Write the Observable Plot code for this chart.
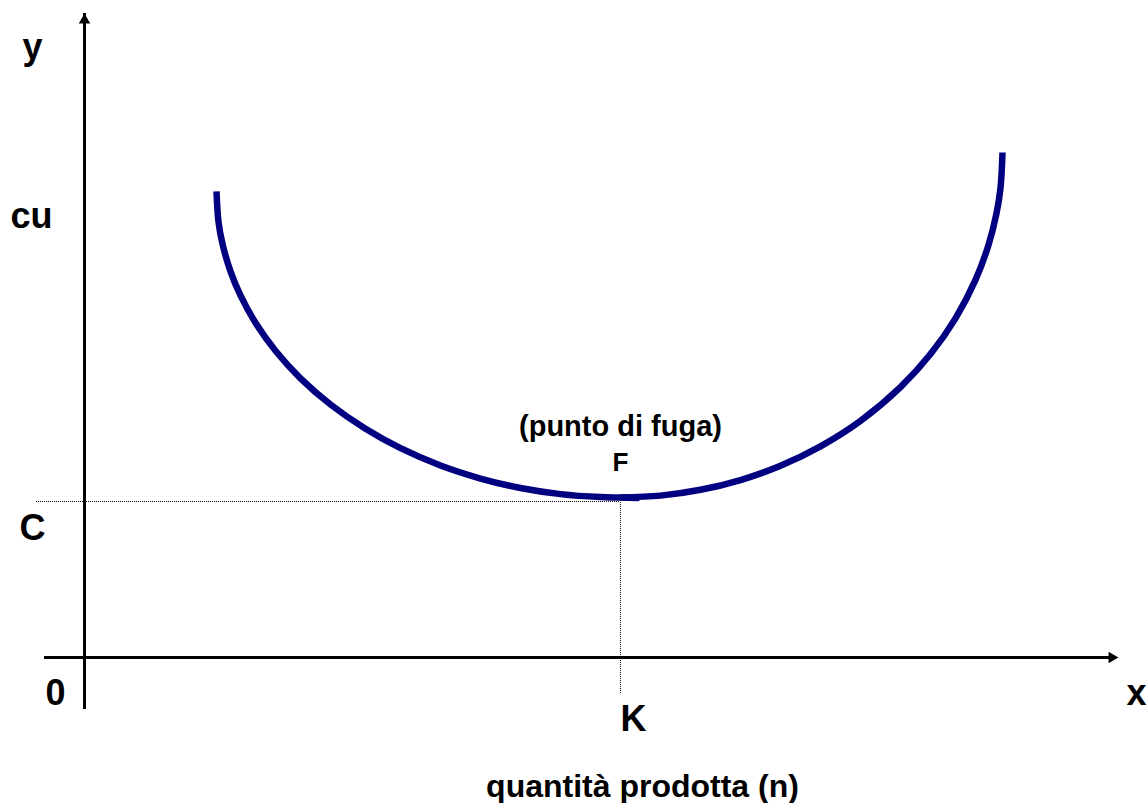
<!DOCTYPE html>
<html>
<head>
<meta charset="utf-8">
<script src="https://cdn.jsdelivr.net/npm/d3@7"></script>
<script src="https://cdn.jsdelivr.net/npm/@observablehq/plot@0.6"></script>
<style>
  html, body { margin: 0; padding: 0; background: #fff; overflow: hidden; }
</style>
</head>
<body>
<div id="chart"></div>
<script>
// Unit cost curve: falling branch down to the escape point F, then rising branch.
const leftQuantity = [2.463, 2.500, 2.575, 2.724, 2.910, 3.190, 3.563, 4.030, 4.590, 5.243, 5.896, 6.642, 7.388, 8.134, 8.881, 9.627, 10.000, 10.354];
const leftCost     = [8.962, 8.377, 7.952, 7.425, 6.963, 6.438, 5.900, 5.369, 4.865, 4.398, 4.025, 3.692, 3.442, 3.260, 3.142, 3.085, 3.077, 3.067];

const rightQuantity = [10.000, 10.746, 11.493, 12.239, 12.985, 13.731, 14.478, 15.224, 15.784, 16.250, 16.623, 16.866, 17.015, 17.090, 17.127];
const rightCost     = [3.077, 3.113, 3.225, 3.413, 3.687, 4.060, 4.550, 5.198, 5.835, 6.523, 7.262, 7.933, 8.540, 9.033, 9.712];

// Key levels: quantity K at the minimum, cost C at the minimum
const K = 10;
const C = 3;
const minCost = 3.077;

// Axis labels
const axisLabels = ["y", "cu", "C", "0", "x", "K"];
const pointLabels = ["(punto di fuga)", "F"];
const xTitle = "quantità prodotta (n)";

const left = leftQuantity.map((q, i) => ({q, cost: leftCost[i]}));
const right = rightQuantity.map((q, i) => ({q, cost: rightCost[i]}));

const font = "'Liberation Sans', Arial, sans-serif";
const ink = "#000";
const curveColor = "#000080";

// Axis extents (the arrows)
const xAxisFrom = -0.746, xAxisTip = 19.29;
const yAxisFrom = -0.885, yAxisTip = 12.385;

const label = (text, x, y, size, extra = {}) =>
  Plot.text([text], {
    x: () => x, y: () => y, text: d => d,
    fontSize: size, fontWeight: "bold", fontFamily: font,
    fill: ink, textAnchor: "middle", lineAnchor: "bottom", ...extra
  });

const chart = Plot.plot({
  width: 1148,
  height: 803,
  margin: 0,
  style: {background: "#fff"},
  x: {domain: [-1.5672, 19.851], axis: null},
  y: {domain: [-2.808, 12.635], axis: null},
  marks: [
    // dotted guides to C and K
    Plot.ruleY([C], {x1: -0.896, x2: K, stroke: ink, strokeWidth: 1, strokeDasharray: "1,1"}),
    Plot.ruleX([K], {y1: -0.692, y2: minCost, stroke: ink, strokeWidth: 1, strokeDasharray: "1,1"}),

    // axes with arrowheads
    Plot.ruleY([0], {x1: xAxisFrom, x2: xAxisTip, stroke: ink, strokeWidth: 3, insetRight: 6}),
    Plot.ruleX([0], {y1: yAxisFrom, y2: yAxisTip, stroke: ink, strokeWidth: 3, insetTop: 6}),
    Plot.dot([0], {x: () => xAxisTip, y: () => 0, symbol: "triangle", r: 4.24, rotate: 90, fill: ink, stroke: null, dx: -6.6}),
    Plot.dot([0], {x: () => 0, y: () => yAxisTip, symbol: "triangle", r: 4.24, fill: ink, stroke: null, dy: 6.6}),

    // the cost curve
    Plot.line(left, {x: "q", y: "cost", curve: "catmull-rom", stroke: curveColor, strokeWidth: 6.5, strokeLinecap: "butt"}),
    Plot.line(right, {x: "q", y: "cost", curve: "catmull-rom", stroke: curveColor, strokeWidth: 6.5, strokeLinecap: "butt"}),

    // labels
    label(axisLabels[0], 0, 11.519, 36, {dx: -52}),
    label(axisLabels[1], 0, 8.269, 36, {dx: -53}),
    label(axisLabels[2], 0, C, 36, {dx: -52, dy: 39}),
    label(axisLabels[3], 0, 0, 36, {dx: -29, dy: 48}),
    label(axisLabels[4], xAxisTip, 0, 36, {dx: 18, dy: 48}),
    label(axisLabels[5], K, 0, 36, {dx: 13, dy: 74}),
    label(pointLabels[0], K, minCost, 29, {dy: -61}),
    label(pointLabels[1], K, minCost, 26, {dy: -26}),
    label(xTitle, K, 0, 32, {dx: 22, dy: 140})
  ]
});

document.getElementById("chart").append(chart);
</script>
</body>
</html>
